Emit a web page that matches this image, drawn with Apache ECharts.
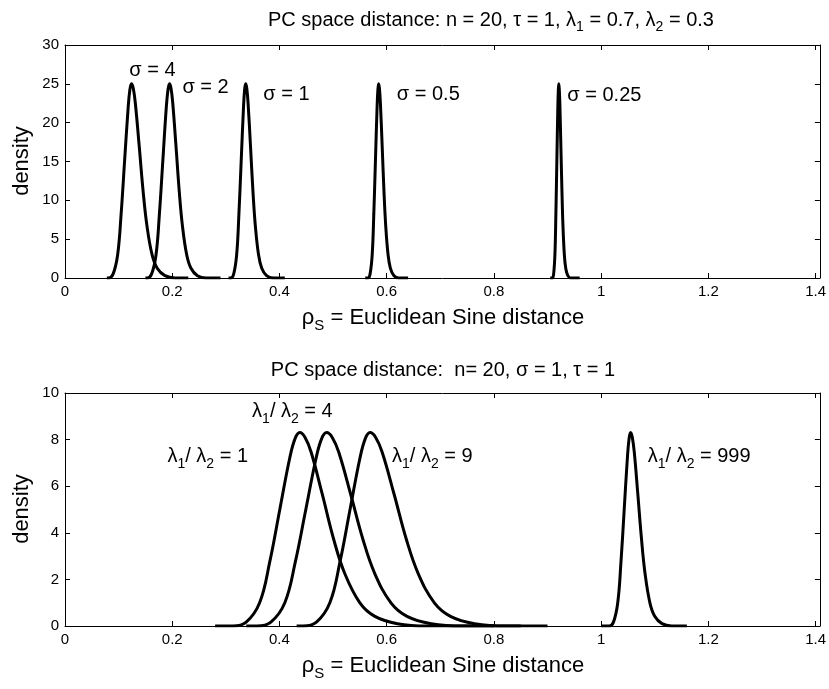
<!DOCTYPE html>
<html><head><meta charset="utf-8">
<script src="https://cdn.jsdelivr.net/npm/echarts@6/dist/echarts.min.js"></script>
<style>html,body{margin:0;padding:0;background:#fff}#c{width:829px;height:689px}</style>
</head><body><div id="c"></div>
<script>
// ---------- data ----------
const xTickValues = [0, 0.2, 0.4, 0.6, 0.8, 1, 1.2, 1.4];
const topYTicks = [0, 5, 10, 15, 20, 25, 30];
const botYTicks = [0, 2, 4, 6, 8, 10];

// top panel: densities for sigma = 4, 2, 1, 0.5, 0.25
const sig4X = [0.078, 0.081, 0.0896, 0.0982, 0.1047, 0.1111, 0.1176, 0.121, 0.124, 0.1274, 0.1312, 0.1384, 0.1456, 0.1528, 0.1624, 0.172, 0.1864, 0.2056, 0.23];
const sig4Y = [0, 0, 0.5, 3, 8.25, 15, 21.75, 24.25, 25, 24.4, 22.5, 17, 11.25, 6.75, 3, 1.25, 0.3, 0, 0];
const sig2X = [0.15, 0.153, 0.1614, 0.1698, 0.1761, 0.1824, 0.1887, 0.1921, 0.195, 0.1978, 0.201, 0.207, 0.213, 0.219, 0.227, 0.235, 0.247, 0.263, 0.29];
const sig2Y = [0, 0, 0.5, 3, 8.25, 15, 21.75, 24.25, 25, 24.4, 22.5, 17, 11.25, 6.75, 3, 1.25, 0.3, 0, 0];
const sig1X = [0.305, 0.309, 0.3146, 0.3202, 0.3244, 0.3286, 0.3328, 0.335, 0.337, 0.3391, 0.3415, 0.346, 0.3505, 0.355, 0.361, 0.367, 0.376, 0.388, 0.41];
const sig1Y = [0, 0, 0.5, 3, 8.25, 15, 21.75, 24.25, 25, 24.4, 22.5, 17, 11.25, 6.75, 3, 1.25, 0.3, 0, 0];
const sig05X = [0.56, 0.565, 0.569, 0.573, 0.576, 0.579, 0.582, 0.5836, 0.585, 0.5865, 0.5883, 0.5916, 0.5949, 0.5982, 0.6026, 0.607, 0.6136, 0.6224, 0.64];
const sig05Y = [0, 0, 0.5, 3, 8.25, 15, 21.75, 24.25, 25, 24.4, 22.5, 17, 11.25, 6.75, 3, 1.25, 0.3, 0, 0];
const sig025X = [0.905, 0.909, 0.9114, 0.9138, 0.9156, 0.9174, 0.9192, 0.9202, 0.921, 0.9219, 0.923, 0.9249, 0.9269, 0.9288, 0.9314, 0.934, 0.9379, 0.9431, 0.96];
const sig025Y = [0, 0, 0.5, 3, 8.25, 15, 21.75, 24.25, 25, 24.4, 22.5, 17, 11.25, 6.75, 3, 1.25, 0.3, 0, 0];

// bottom panel: densities for lambda1/lambda2 = 1, 4, 9, 999
const r1X = [0.28, 0.313, 0.338, 0.363, 0.3818, 0.4005, 0.4193, 0.4293, 0.438, 0.4478, 0.459, 0.48, 0.501, 0.522, 0.55, 0.578, 0.62, 0.676, 0.8];
const r1Y = [0, 0, 0.166, 0.996, 2.739, 4.98, 7.221, 8.051, 8.3, 8.093, 7.47, 5.644, 3.735, 2.241, 0.996, 0.415, 0.1, 0, 0];
const r4X = [0.338, 0.358, 0.384, 0.41, 0.4295, 0.449, 0.4685, 0.4789, 0.488, 0.4985, 0.5105, 0.533, 0.5555, 0.578, 0.608, 0.638, 0.683, 0.743, 0.85];
const r4Y = [0, 0, 0.166, 0.996, 2.739, 4.98, 7.221, 8.051, 8.3, 8.093, 7.47, 5.644, 3.735, 2.241, 0.996, 0.415, 0.1, 0, 0];
const r9X = [0.432, 0.444, 0.469, 0.494, 0.5128, 0.5315, 0.5503, 0.5603, 0.569, 0.5795, 0.5915, 0.614, 0.6365, 0.659, 0.689, 0.719, 0.764, 0.824, 0.9];
const r9Y = [0, 0, 0.166, 0.996, 2.739, 4.98, 7.221, 8.051, 8.3, 8.093, 7.47, 5.644, 3.735, 2.241, 0.996, 0.415, 0.1, 0, 0];
const r999X = [1.0, 1.015, 1.023, 1.031, 1.037, 1.043, 1.049, 1.0522, 1.055, 1.0582, 1.0618, 1.0685, 1.0753, 1.082, 1.091, 1.1, 1.1135, 1.1315, 1.16];
const r999Y = [0, 0, 0.166, 0.996, 2.739, 4.98, 7.221, 8.051, 8.3, 8.093, 7.47, 5.644, 3.735, 2.241, 0.996, 0.415, 0.1, 0, 0];

// curve annotations (text, anchor in data coords: left edge, vertical centre)
const topNotes = [
  {t: 'σ = 4', x: 0.12, y: 26.7},
  {t: 'σ = 2', x: 0.219, y: 24.5},
  {t: 'σ = 1', x: 0.37, y: 23.6},
  {t: 'σ = 0.5', x: 0.619, y: 23.6},
  {t: 'σ = 0.25', x: 0.937, y: 23.5}
];
const botNotes = [
  {r: '4', x: 0.349, y: 9.2},
  {r: '1', x: 0.191, y: 7.27},
  {r: '9', x: 0.61, y: 7.27},
  {r: '999', x: 1.087, y: 7.27}
];

// ---------- chart ----------
const FONT = 'Liberation Sans';
const zip = (xs, ys) => xs.map((x, i) => [x, ys[i]]);
const chart = echarts.init(document.getElementById('c'), null, {renderer: 'canvas'});

const G = [
  {left: 65, right: 8, top: 45, height: 233},
  {left: 65, right: 8, top: 393, height: 233}
];
const XMAX = 1.408;
function xAx(gi, pos, labels) {
  return {
    type: 'value', gridIndex: gi, position: pos, min: 0, max: XMAX, interval: 0.2,
    axisLine: {show: true, onZero: false, lineStyle: {color: '#000', width: 1}},
    axisTick: {show: true, inside: true, length: 5, lineStyle: {color: '#000'},
      customValues: xTickValues},
    axisLabel: {show: labels, color: '#000', fontSize: 15, fontFamily: FONT, margin: 6,
      customValues: xTickValues,
      formatter: v => String(+v.toFixed(1))},
    splitLine: {show: false}
  };
}
function yAx(gi, pos, max, interval, labels) {
  return {
    type: 'value', gridIndex: gi, position: pos, min: 0, max: max, interval: interval,
    axisLine: {show: true, onZero: false, lineStyle: {color: '#000', width: 1}},
    axisTick: {show: true, inside: true, length: 5, lineStyle: {color: '#000'}},
    axisLabel: {show: labels, color: '#000', fontSize: 15, fontFamily: FONT, margin: 6},
    splitLine: {show: false}
  };
}
function line(xi, yi, xs, ys) {
  return {
    type: 'line', xAxisIndex: xi, yAxisIndex: yi, data: zip(xs, ys),
    showSymbol: false, smooth: 0.4, silent: true,
    lineStyle: {color: '#000', width: 3}, z: 3
  };
}

chart.setOption({
  animation: false,
  backgroundColor: '#fff',
  grid: G,
  xAxis: [xAx(0, 'bottom', true), xAx(0, 'top', false), xAx(1, 'bottom', true), xAx(1, 'top', false)],
  yAxis: [yAx(0, 'left', 30, 5, true), yAx(0, 'right', 30, 5, false), yAx(1, 'left', 10, 2, true), yAx(1, 'right', 10, 2, false)],
  series: [
    line(0, 0, sig4X, sig4Y), line(0, 0, sig2X, sig2Y), line(0, 0, sig1X, sig1Y),
    line(0, 0, sig05X, sig05Y), line(0, 0, sig025X, sig025Y),
    line(2, 2, r1X, r1Y), line(2, 2, r4X, r4Y), line(2, 2, r9X, r9Y), line(2, 2, r999X, r999Y)
  ]
});

function mkRich(main, sub, pad) {
  return {
    m: {fontSize: main, fontFamily: FONT, color: '#000'},
    s: {fontSize: sub, fontFamily: FONT, color: '#000', padding: [pad, 0, 0, 0]}
  };
}
const richA = mkRich(20, 14, 15);
const richT = mkRich(20, 14, 15);
const richL = mkRich(22, 15, 16);
function txt(x, y, text, r, align, rot) {
  return {type: 'text', x: x, y: y, rotation: rot || 0, silent: true,
    style: {text: text, rich: r, align: align || 'left', verticalAlign: 'middle', fill: '#000',
      font: '20px ' + FONT}};
}
const gfx = [];
topNotes.forEach(n => {
  const p = chart.convertToPixel({xAxisIndex: 0, yAxisIndex: 0}, [n.x, n.y]);
  gfx.push(txt(p[0], p[1], '{m|' + n.t + '}', richA));
});
botNotes.forEach(n => {
  const p = chart.convertToPixel({xAxisIndex: 2, yAxisIndex: 2}, [n.x, n.y]);
  gfx.push(txt(p[0], p[1], '{m|λ}{s|1}{m|/ λ}{s|2}{m| = ' + n.r + '}', richA));
});
gfx.push(txt(491, 20, '{m|PC space distance: n = 20, τ = 1, λ}{s|1}{m| = 0.7, λ}{s|2}{m| = 0.3}', richT, 'center'));
gfx.push(txt(443, 370, '{m|PC space distance:  n= 20, σ = 1, τ = 1}', richT, 'center'));
gfx.push(txt(443, 318, '{m|ρ}{s|S}{m| = Euclidean Sine distance}', richL, 'center'));
gfx.push(txt(443, 666, '{m|ρ}{s|S}{m| = Euclidean Sine distance}', richL, 'center'));
gfx.push(txt(22, 161, '{m|density}', richL, 'center', Math.PI / 2));
gfx.push(txt(22, 509, '{m|density}', richL, 'center', Math.PI / 2));
chart.setOption({graphic: gfx});
</script>
</body></html>
